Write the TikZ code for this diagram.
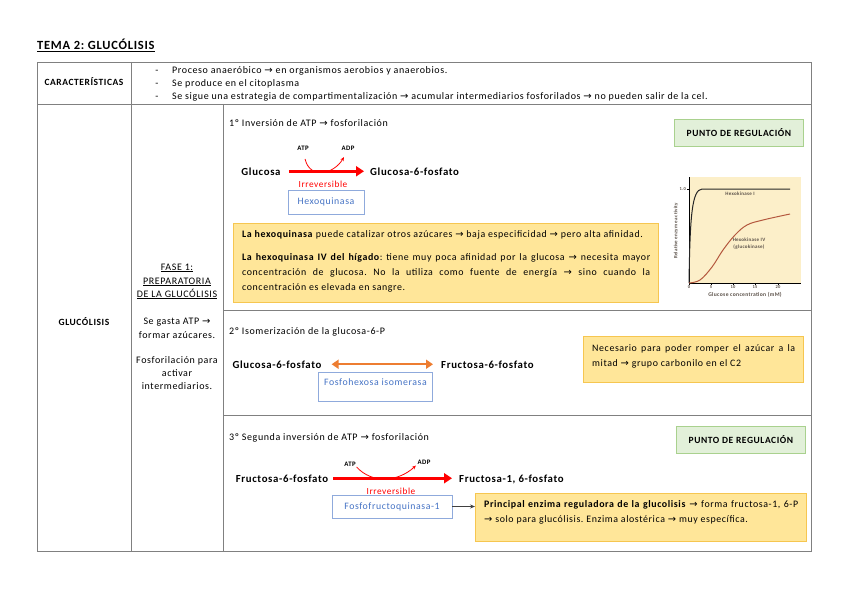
\documentclass[tikz,border=0pt]{standalone}
\usepackage{fontspec}
\setmainfont{Carlito}[LetterSpace=6]
\newfontfamily\symf{DejaVu Sans}
\newcommand\ra{{\symf\char"2192}}
\newcommand\fs[2]{\fontsize{#1}{#2}\selectfont}
\setlength\parindent{0pt}
\frenchspacing
\usetikzlibrary{arrows.meta}
\definecolor{ybox}{HTML}{FFE699}
\definecolor{yborder}{HTML}{F6C650}
\definecolor{gbox}{HTML}{E2F0D9}
\definecolor{gborder}{HTML}{A9D18E}
\definecolor{bborder}{HTML}{8FAADC}
\definecolor{btext}{HTML}{4472C4}
\definecolor{orarrow}{HTML}{ED7D31}
\definecolor{grline}{HTML}{808080}
\definecolor{plotbg}{HTML}{FCEFC9}
\definecolor{hexiv}{HTML}{B4583F}
\definecolor{plottext}{HTML}{5A5048}
\begin{document}
\begin{tikzpicture}[x=1pt,y=-1pt,
  txt/.style={inner sep=0pt, font=\fs{10}{11.5}},
  btxt/.style={inner sep=0pt, font=\bfseries\fs{9.5}{11}},
  bigl/.style={inner sep=0pt, font=\bfseries\fs{10.8}{13}, text height=7.5pt, text depth=0pt},
  smalll/.style={inner sep=0pt, font=\bfseries\fs{6.8}{8}, text height=5pt, text depth=0pt},
  redl/.style={inner sep=0pt, font=\fs{9.3}{11}, text=red},
  ybx/.style={draw=yborder, fill=ybox, line width=0.9pt, inner sep=0pt},
  ytxt/.style={inner sep=0pt, font=\fs{9.9}{15}, align=justify, anchor=north west},
  gbx/.style={draw=gborder, fill=gbox, line width=0.9pt, inner sep=0pt, font=\bfseries\fs{9.5}{11}},
  bbx/.style={draw=bborder, line width=0.9pt, inner sep=0pt, text=btext, font=\fs{9.8}{11}},
  redarrow/.style={red, line width=2.6pt, -{Triangle[length=8pt,width=10pt]}},
  redcurve/.style={red, line width=0.8pt, -{Stealth[length=4pt,width=3.5pt]}},
  orarr/.style={orarrow, line width=2pt, {Triangle[length=7pt,width=9pt]}-{Triangle[length=7pt,width=9pt]}},
  grarr/.style={black!75, line width=0.7pt, -{Stealth[length=5pt,width=4pt]}},
  tline/.style={grline, line width=0.9pt},
  ptxt/.style={inner sep=0pt, text=plottext, font=\bfseries\fs{5}{6}}
]
\useasboundingbox (0,0) rectangle (848,599);

% title
\node[anchor=base west, inner sep=0pt, font=\bfseries\fs{12.5}{15}] (title) at (37,50) {\underline{TEMA 2: GLUCÓLISIS}};

% table lines
\draw[tline] (37,62) rectangle (811,551);
\draw[tline] (37,104) -- (811,104);
\draw[tline] (131,62) -- (131,551);
\draw[tline] (223,104) -- (223,551);
\draw[tline] (223,310) -- (811,310);
\draw[tline] (223,415) -- (811,415);

% row 1
\node[btxt, anchor=base] (car) at (84,86) {CARACTERÍSTICAS};
\node[txt, anchor=base] (d1) at (157,74) {-};
\node[txt, anchor=base] (d2) at (157,87) {-};
\node[txt, anchor=base] (d3) at (157,100) {-};
\node[txt, anchor=base west] (c1) at (172,74) {Proceso anaeróbico \ra{} en organismos aerobios y anaerobios.};
\node[txt, anchor=base west] (c2) at (172,87) {Se produce en el citoplasma};
\node[txt, anchor=base west] (c3) at (172,100) {Se sigue una estrategia de compartimentalización \ra{} acumular intermediarios fosforilados \ra{} no pueden salir de la cel.};

% left columns
\node[btxt, anchor=base] (glu) at (84,325) {GLUCÓLISIS};
\node[txt, anchor=base] (f1) at (177,270) {\underline{FASE 1:}};
\node[txt, anchor=base] (f2) at (177,284) {\underline{PREPARATORIA}};
\node[txt, anchor=base] (f3) at (177,297) {\underline{DE LA GLUCÓLISIS}};
\node[txt, anchor=base] (f4) at (177,324) {Se gasta ATP \ra};
\node[txt, anchor=base] (f5) at (177,338) {formar azúcares.};
\node[txt, anchor=base] (f6) at (177,363) {Fosforilación para};
\node[txt, anchor=base] (f7) at (177,376) {activar};
\node[txt, anchor=base] (f8) at (177,389) {intermediarios.};

% ---------- sub-row 1
\node[txt, anchor=base west] (s1) at (229,127) {1º Inversión de ATP \ra{} fosforilación};
\node[gbx, anchor=north west, minimum width=129pt, minimum height=27pt] (pr1) at (674,119) {PUNTO DE REGULACIÓN};
\node[bigl, anchor=base] (gl) at (261,175) {Glucosa};
\node[bigl, anchor=base west] (g6p) at (370,175) {Glucosa-6-fosfato};
\draw[redarrow, shorten <=8pt, shorten >=6pt] (gl.east) -- (g6p.west);
\node[smalll, anchor=base] (atp1) at (303,150) {ATP};
\node[smalll, anchor=base] (adp1) at (348,150) {ADP};
\draw[redcurve, shorten <=9pt, shorten >=8pt] (atp1.south) .. controls (310,180) and (334,174) .. (adp1.south);
\node[redl, anchor=base] (irr1) at (323,187) {Irreversible};
\node[bbx, minimum width=76pt, minimum height=24pt] (hexo) at (326,202) {Hexoquinasa};

\node[ybx, anchor=north west, minimum width=425pt, minimum height=79pt] (yb1) at (233,223) {};
\node[ytxt, text width=408pt] (yb1t) at (242,229) {\rule{0pt}{8pt}\textbf{La hexoquinasa} puede catalizar otros azúcares \ra{} baja especificidad \ra{} pero alta afinidad.\par\vspace{8pt}
\textbf{La hexoquinasa IV del hígado}: tiene muy poca afinidad por la glucosa \ra{} necesita mayor\linebreak concentración de glucosa. No la utiliza como fuente de energía \ra{} sino cuando la\linebreak concentración es elevada en sangre.};

% graph
\fill[plotbg] (689,177) rectangle (801,283);
\draw[black, line width=0.5pt] (689,177) -- (689,283) -- (801,283);
\foreach \v/\xx in {0/689,5/711,10/733,15/755,20/778} {
  \draw[black, line width=0.4pt] (\xx,283) -- (\xx,285);
  \node[ptxt, anchor=north, font=\bfseries\fs{4.5}{5}] at (\xx,285.5) {\v};
}
\draw[black, line width=0.4pt] (687,189) -- (689,189);
\node[ptxt, anchor=east, font=\bfseries\fs{4.5}{5}] (one) at (686,189) {1.0};
\draw[black!85, line width=1pt] (689,283) .. controls (690,215) and (692,190) .. (702,189) -- (790,189);
\draw[hexiv, line width=1pt] plot[smooth, tension=0.6] coordinates {(689,283) (700,280) (712,267) (723,250) (735,235) (747,225) (763,220) (790,214)};
\node[ptxt] (hk1) at (740,194) {Hexokinase I};
\node[ptxt] (hk4) at (749,240) {Hexokinase IV};
\node[ptxt] (gk) at (749,247) {(glucokinase)};
\node[ptxt, font=\bfseries\fs{5.6}{6.5}] (gc) at (745,295) {Glucose concentration (mM)};
\node[ptxt, rotate=90, font=\bfseries\fs{5}{6}] (rea) at (676,231) {Relative enzyme activity};

% ---------- sub-row 2
\node[txt, anchor=base west] (s2) at (229,334) {2º Isomerización de la glucosa-6-P};
\node[bigl, anchor=base] (g6p2) at (277,368) {Glucosa-6-fosfato};
\node[bigl, anchor=base west] (f6p2) at (441,368) {Fructosa-6-fosfato};
\draw[orarr, shorten <=10pt, shorten >=8pt] (g6p2.east) -- (f6p2.west);
\node[bbx, anchor=north west, minimum width=114pt, minimum height=29pt, text height=12pt, text depth=15pt] (fhi) at (318,372) {Fosfohexosa isomerasa};
\node[ybx, anchor=north west, minimum width=220pt, minimum height=46pt] (yb2) at (583,336) {};
\node[ytxt, text width=203pt] (yb2t) at (592,343) {\rule{0pt}{8pt}Necesario para poder romper el azúcar a la\linebreak mitad \ra{} grupo carbonilo en el C2};

% ---------- sub-row 3
\node[txt, anchor=base west] (s3) at (229,440) {3º Segunda inversión de ATP \ra{} fosforilación};
\node[gbx, anchor=north west, minimum width=129pt, minimum height=27pt] (pr2) at (676,426) {PUNTO DE REGULACIÓN};
\node[bigl, anchor=base] (f6p3) at (282,482) {Fructosa-6-fosfato};
\node[bigl, anchor=base west] (f16p) at (459,482) {Fructosa-1, 6-fosfato};
\draw[redarrow, shorten <=5pt, shorten >=7pt] (f6p3.east) -- (f16p.west);
\node[smalll, anchor=base] (atp3) at (350,466) {ATP};
\node[smalll, anchor=base] (adp3) at (424,464) {ADP};
\draw[redcurve, shorten <=1pt, shorten >=2pt] (atp3.south east) .. controls (372,484) and (398,482) .. (adp3.south west);
\node[redl, anchor=base] (irr3) at (391,494) {Irreversible};
\node[bbx, minimum width=120pt, minimum height=23pt] (pfk) at (392,506.5) {Fosfofructoquinasa-1};
\node[ybx, anchor=north west, minimum width=331pt, minimum height=48pt] (yb3) at (475,493) {};
\draw[grarr] (pfk.east) -- (pfk.east -| yb3.west);
\node[ytxt, text width=314pt] (yb3t) at (484,499) {\rule{0pt}{8pt}\textbf{Principal enzima reguladora de la glucolisis} \ra{} forma fructosa-1, 6-P\linebreak \ra{} solo para glucólisis. Enzima alostérica \ra{} muy específica.};

\end{tikzpicture}
\end{document}
